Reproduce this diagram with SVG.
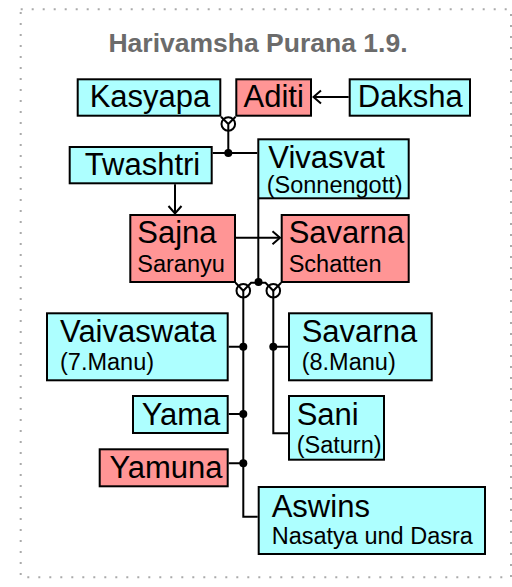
<svg xmlns="http://www.w3.org/2000/svg" width="512" height="587" viewBox="0 0 512 587">
<style>
.c{fill:#adffff;stroke:#000;stroke-width:2}
.r{fill:#ff9595;stroke:#000;stroke-width:2}
.t{font-family:"Liberation Sans",Arial,Helvetica,sans-serif;font-size:31px;fill:#000}
.s{font-family:"Liberation Sans",Arial,Helvetica,sans-serif;font-size:23.5px;fill:#000}
.m{text-anchor:middle}
.ln{fill:none;stroke:#000;stroke-width:2}
.dot{fill:#000}
</style>
<defs>
<marker id="arr" viewBox="-10 -8 12 16" markerWidth="12" markerHeight="16" refX="0" refY="0" orient="auto" markerUnits="userSpaceOnUse">
<path d="M-7.5,-6.5 L0,0 L-7.5,6.5" fill="none" stroke="#000" stroke-width="2"/>
</marker>
</defs>
<rect x="20.7" y="9.3" width="490.3" height="568" fill="#fff" stroke="#aaa" stroke-width="2" stroke-dasharray="2 9"/>
<text x="258" y="51.7" text-anchor="middle" font-family="Liberation Sans,Arial,sans-serif" font-size="26.5" font-weight="bold" fill="#6b6b6b">Harivamsha Purana 1.9.</text>

<g id="connectors">
<path class="ln" d="M348.7,97 H313.5" marker-end="url(#arr)"/>
<path class="ln" d="M175,184.3 V213.5" marker-end="url(#arr)"/>
<path class="ln" d="M236,237.7 H280" marker-end="url(#arr)"/>
<circle class="ln" cx="228.3" cy="124" r="6.8"/>
<path class="ln" d="M221,116.7 L228.3,124 L235.6,116.7 M228.3,124 V153"/>
<path class="ln" d="M212.7,153 H257.3"/>
<circle class="dot" cx="228.3" cy="153" r="4"/>
<path class="ln" d="M258.3,199 V282.5"/>
<circle class="dot" cx="258.5" cy="282" r="4"/>
<circle class="ln" cx="243.3" cy="290.7" r="6.8"/>
<circle class="ln" cx="273.3" cy="290.7" r="6.8"/>
<path class="ln" d="M235.5,282.7 L243.3,290.7 L251.1,282.7 H265.5 L273.3,290.7 L281.1,282.7"/>
<path class="ln" d="M243.3,290.7 V516.7 H257.7"/>
<path class="ln" d="M273.3,290.7 V433.3 H288"/>
<path class="ln" d="M228.7,346.7 H243.3 M273.3,346.7 H288 M228.7,414 H243.3 M228.7,463.3 H243.3"/>
<circle class="dot" cx="243.3" cy="346.7" r="4"/>
<circle class="dot" cx="273.3" cy="346.7" r="4"/>
<circle class="dot" cx="243.3" cy="414" r="4"/>
<circle class="dot" cx="243.3" cy="463.3" r="4"/>
</g>

<g id="kasyapa"><rect class="c" x="77.7" y="79.3" width="142.6" height="36.4"/><text class="t m" x="150" y="106.7">Kasyapa</text></g>
<g id="aditi"><rect class="r" x="236.3" y="79.3" width="74.7" height="36.4"/><text class="t m" x="273.7" y="106.7">Aditi</text></g>
<g id="daksha"><rect class="c" x="349.7" y="79.3" width="120.3" height="36.4"/><text class="t m" x="410.3" y="106.7">Daksha</text></g>
<g id="twashtri"><rect class="c" x="69.7" y="147" width="142" height="36.3"/><text class="t m" x="142.5" y="175">Twashtri</text></g>
<g id="vivasvat"><rect class="c" x="258.3" y="139.3" width="150.4" height="59"/><text class="t" x="268.3" y="167.7">Vivasvat</text><text class="s" x="266.7" y="193.3">(Sonnengott)</text></g>
<g id="sajna"><rect class="r" x="130.3" y="215" width="104.7" height="67"/><text class="t" x="137.3" y="243.3">Sajna</text><text class="s" x="137.3" y="271.7">Saranyu</text></g>
<g id="savarna-schatten"><rect class="r" x="281.7" y="215" width="127" height="67"/><text class="t" x="288.7" y="243.3">Savarna</text><text class="s" x="288.7" y="271.7">Schatten</text></g>
<g id="vaivaswata"><rect class="c" x="47" y="313.3" width="180.7" height="67"/><text class="t" x="60" y="341.7">Vaivaswata</text><text class="s" x="60" y="370">(7.Manu)</text></g>
<g id="savarna-manu"><rect class="c" x="289" y="313.3" width="142.7" height="67"/><text class="t" x="301.7" y="341.7">Savarna</text><text class="s" x="301.7" y="370">(8.Manu)</text></g>
<g id="yama"><rect class="c" x="133" y="396" width="94.7" height="37"/><text class="t m" x="181" y="425">Yama</text></g>
<g id="yamuna"><rect class="r" x="99.7" y="449.3" width="128" height="37"/><text class="t m" x="166" y="478.3">Yamuna</text></g>
<g id="sani"><rect class="c" x="289" y="396" width="95" height="63.7"/><text class="t" x="296.7" y="425">Sani</text><text class="s" x="296.7" y="453.3">(Saturn)</text></g>
<g id="aswins"><rect class="c" x="258.7" y="487" width="226.3" height="67"/><text class="t" x="271.7" y="516.7">Aswins</text><text class="s" x="271.7" y="544">Nasatya und Dasra</text></g>
</svg>
